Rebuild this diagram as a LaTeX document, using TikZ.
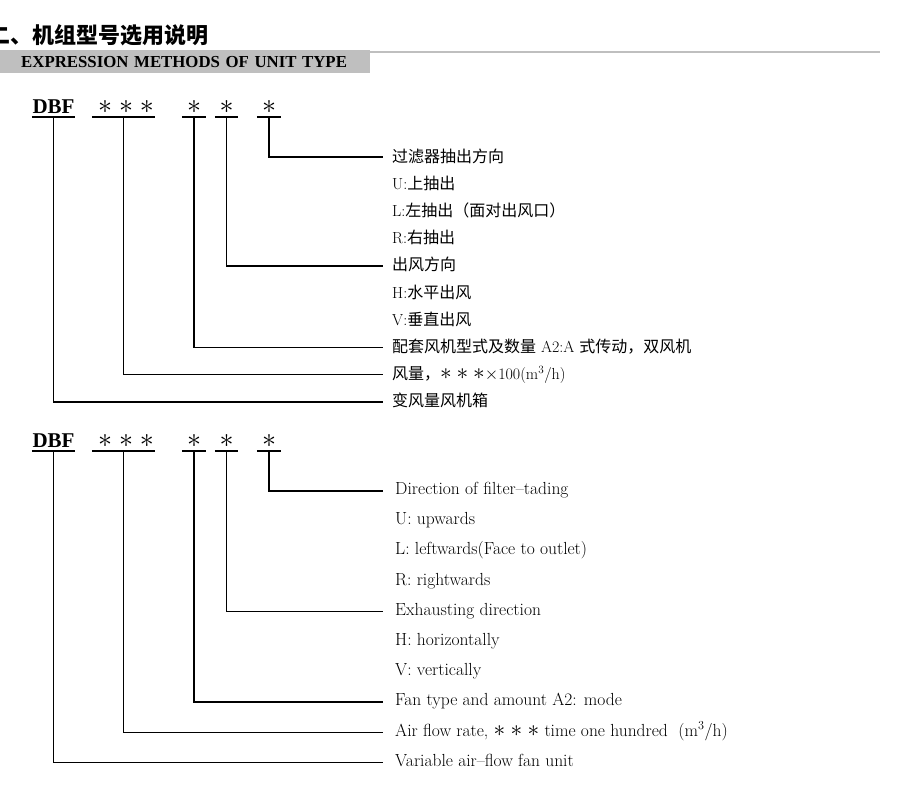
\documentclass[tikz,border=0pt]{standalone}
\usepackage{graphicx}
\usepackage{fontspec}
\newfontfamily\cjk{Noto Sans CJK SC}
\newfontfamily\tnr{Liberation Serif}
\usetikzlibrary{positioning}
\definecolor{barfill}{RGB}{191,191,191}
\newcommand{\st}{\scalebox{1.35}{$\ast$}}

\begin{document}
\begin{tikzpicture}[
    x=1pt, y=-1pt,
    node distance=10.8pt,
    hdbar/.style={anchor=north west, fill=barfill, minimum height=23pt, inner xsep=0pt, inner ysep=0pt, text width=370pt, align=left, font=\tnr\bfseries\fontsize{16.8}{16.8}\selectfont},
    code/.style={anchor=south, inner xsep=0pt, inner ysep=1pt, text height=15pt, text depth=2pt, font=\tnr\bfseries\fontsize{21}{21}\selectfont},
    zh/.style={inner xsep=9pt, inner ysep=0pt, text height=13pt, text depth=3pt, font=\fontsize{16}{16}\selectfont},
    en/.style={inner xsep=12pt, inner ysep=0pt, text height=12pt, text depth=4.5pt, font=\fontsize{17.5}{17.5}\selectfont},
    ulin/.style={line width=1.8pt},
    lead/.style={line width=1.6pt},
    rule/.style={line width=1.8pt, barfill}
]
\useasboundingbox (0,0) rectangle (905,789);

% Heading
\node[anchor=west, inner sep=0pt, font=\cjk\bfseries\fontsize{22}{22}\selectfont] (title) at (-12,35) {二、机组型号选用说明};
\node[hdbar] (head) at (0,50) {\hspace*{21pt}EXPRESSION METHODS OF UNIT TYPE};
\draw[rule] ([yshift=-2pt]head.north east) -- ++(510,0);

% Chinese code row
\node[code, minimum width=43pt] (a1) at (53.5,116.7) {DBF};
\node[code, minimum width=63pt] (a2) at (123.5,116.7) {\hspace{5pt}\st\hspace{6.8pt}\st\hspace{6.8pt}\st};
\node[code, minimum width=24pt] (a3) at (194,116.7) {\st};
\node[code, minimum width=23pt] (a4) at (226.5,116.7) {\st};
\node[code, minimum width=24pt] (a5) at (269,116.7) {\st};

% Chinese labels
\node[zh, anchor=west] (z1) at (383,157) {\cjk 过滤器抽出方向};
\node[zh, below=of z1.south west, anchor=north west] (z2) {U:{\cjk 上抽出}};
\node[zh, below=of z2.south west, anchor=north west] (z3) {L:{\cjk 左抽出（面对出风口）}};
\node[zh, below=of z3.south west, anchor=north west] (z4) {R:{\cjk 右抽出}};
\node[zh, below=of z4.south west, anchor=north west] (z5) {\cjk 出风方向};
\node[zh, below=of z5.south west, anchor=north west] (z6) {H:{\cjk 水平出风}};
\node[zh, below=of z6.south west, anchor=north west] (z7) {V:{\cjk 垂直出风}};
\node[zh, below=of z7.south west, anchor=north west] (z8) {{\cjk 配套风机型式及数量} A2:A {\cjk 式传动，双风机}};
\node[zh, below=of z8.south west, anchor=north west] (z9) {{\cjk 风量，}\st\ \st\ \st$\times$100(m\textsuperscript{3}/h)};
\node[zh, below=of z9.south west, anchor=north west] (z10) {\cjk 变风量风机箱};

\foreach \n in {a1,a2,a3,a4,a5}
    \draw[ulin] (\n.south west) -- (\n.south east);
\draw[lead] (a5) |- (z1);
\draw[lead] (a4) |- (z5);
\draw[lead] (a3) |- (z8);
\draw[lead] (a2) |- (z9);
\draw[lead] (a1) |- (z10);

% English code row
\node[code, minimum width=43pt] (b1) at (53.5,450.7) {DBF};
\node[code, minimum width=63pt] (b2) at (123.5,450.7) {\hspace{5pt}\st\hspace{6.8pt}\st\hspace{6.8pt}\st};
\node[code, minimum width=24pt] (b3) at (194,450.7) {\st};
\node[code, minimum width=23pt] (b4) at (226.5,450.7) {\st};
\node[code, minimum width=24pt] (b5) at (269,450.7) {\st};

% English labels
\node[en, anchor=west] (y1) at (383,490.7) {Direction of filter--tading};
\node[en, below=13.3pt of y1.south west, anchor=north west] (y2) {U: upwards};
\node[en, below=13.3pt of y2.south west, anchor=north west] (y3) {L: leftwards(Face to outlet)};
\node[en, below=13.3pt of y3.south west, anchor=north west] (y4) {R: rightwards};
\node[en, below=13.3pt of y4.south west, anchor=north west] (y5) {Exhausting direction};
\node[en, below=13.3pt of y5.south west, anchor=north west] (y6) {H: horizontally};
\node[en, below=13.3pt of y6.south west, anchor=north west] (y7) {V: vertically};
\node[en, below=13.3pt of y7.south west, anchor=north west] (y8) {Fan type and amount A2: mode};
\node[en, below=13.3pt of y8.south west, anchor=north west] (y9) {Air flow rate, \st\ \st\ \st\ time one hundred\ \ (m\textsuperscript{3}/h)};
\node[en, below=13.3pt of y9.south west, anchor=north west] (y10) {Variable air--flow fan unit};

\foreach \n in {b1,b2,b3,b4,b5}
    \draw[ulin] (\n.south west) -- (\n.south east);
\draw[lead] (b5) |- (y1);
\draw[lead] (b4) |- (y5);
\draw[lead] (b3) |- (y8);
\draw[lead] (b2) |- (y9);
\draw[lead] (b1) |- (y10);
\end{tikzpicture}
\end{document}
